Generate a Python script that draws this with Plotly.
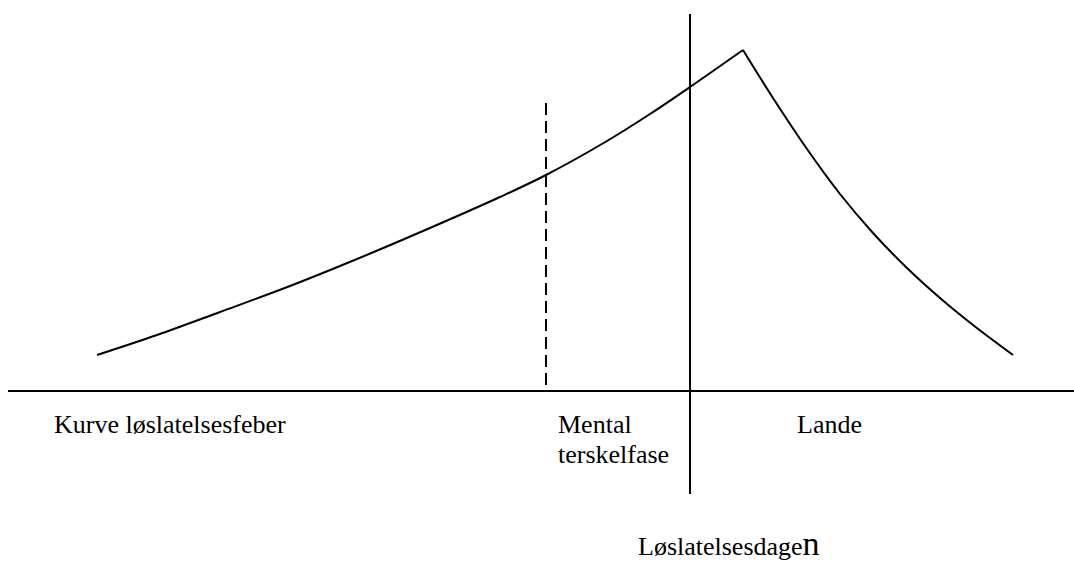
import plotly.graph_objects as go

# Coordinates: x in canvas units (0..1074), y = height above the baseline
rise_x = [97, 157, 220, 290, 357, 423, 500, 546, 607, 650, 690, 743]
rise_y = [36, 56, 79, 105, 132, 160, 194, 216, 250, 277, 304, 341]
fall_x = [743, 773, 807, 840, 873, 907, 940, 973, 1013]
fall_y = [341, 293, 242, 197, 158, 123, 93, 66, 36]

baseline_x = [8, 1074]
baseline_y = [0, 0]
release_x = [690, 690]
release_y = [377, -103]
threshold_x = [546, 546]
threshold_y = [288, 2]

labels = ["Kurve løslatelsesfeber", "Mental", "terskelfase", "Lande"]
label_x = [52, 556, 556, 795]
label_y = [-33, -33, -63, -33]
day_label = "Løslatelsesdage"
day_label_tail = "n"
day_x = 636
day_y = -152

black = "#000000"
fig = go.Figure()
fig.add_trace(go.Scatter(x=rise_x, y=rise_y, mode="lines",
                         line=dict(color=black, width=2, shape="spline", smoothing=1.0)))
fig.add_trace(go.Scatter(x=fall_x, y=fall_y, mode="lines",
                         line=dict(color=black, width=2, shape="spline", smoothing=1.0)))
fig.add_trace(go.Scatter(x=baseline_x, y=baseline_y, mode="lines",
                         line=dict(color=black, width=2.2)))
fig.add_trace(go.Scatter(x=release_x, y=release_y, mode="lines",
                         line=dict(color=black, width=2)))
fig.add_trace(go.Scatter(x=threshold_x, y=threshold_y, mode="lines",
                         line=dict(color=black, width=2, dash="12px,6px")))

font = dict(family="Liberation Serif, Times New Roman, serif", size=26, color=black)
for t, x, y in zip(labels, label_x, label_y):
    fig.add_annotation(x=x, y=y, text=t, showarrow=False, xanchor="left",
                       yanchor="middle", font=font)
fig.add_annotation(x=day_x, y=day_y,
                   text=day_label + "<span style='font-size:34px'>" + day_label_tail + "</span>",
                   showarrow=False, xanchor="left", yanchor="middle", font=font)

fig.update_layout(
    width=1074, height=562,
    margin=dict(l=0, r=0, t=0, b=0),
    paper_bgcolor="white", plot_bgcolor="white",
    showlegend=False,
    xaxis=dict(range=[0, 1074], visible=False, fixedrange=True),
    yaxis=dict(range=[-171, 391], visible=False, fixedrange=True),
)
fig.write_html("out.html", config={"responsive": False, "displayModeBar": False},
               post_script="document.body.style.margin='0';document.body.style.overflow='hidden';")
